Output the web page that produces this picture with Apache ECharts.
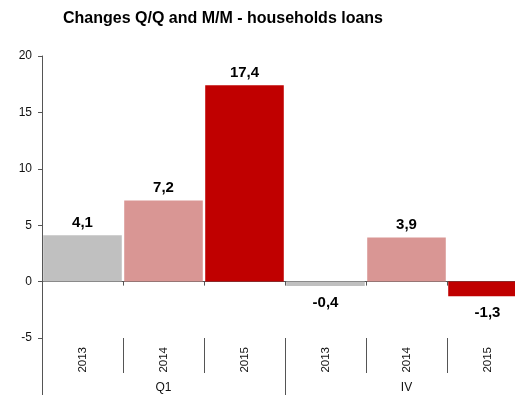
<!DOCTYPE html>
<html>
<head>
<meta charset="utf-8">
<script src="https://cdn.jsdelivr.net/npm/echarts@6/dist/echarts.min.js"></script>
<style>
  html, body { margin: 0; padding: 0; background: #fff; }
  #chart { width: 515px; height: 400px; }
</style>
</head>
<body>
<div id="chart"></div>
<script>
// values
const years = ["2013", "2014", "2015", "2013", "2014", "2015"];
const groups = ["Q1", "IV"];
const values = [4.1, 7.2, 17.4, -0.4, 3.9, -1.3];

const YEAR_COLORS = {
  "2013": "#C0C0C0",
  "2014": "#D99694",
  "2015": "#C00000",
};
const FONT = "Arial, 'Liberation Sans', sans-serif";

const chart = echarts.init(document.getElementById("chart"), null, { renderer: "canvas" });

const fmt = (v) => v.toFixed(1).replace(".", ",");

const option = {
  animation: false,
  title: {
    text: "Changes Q/Q and M/M - households loans",
    left: 218,
    top: 6,
    textAlign: "center",
    textStyle: { fontFamily: FONT, fontSize: 16, fontWeight: "bold", color: "#000" },
  },
  grid: {
    left: 42,
    right: -13,
    top: 56,
    bottom: 62,
    containLabel: false,
    outerBoundsMode: "none",
  },
  xAxis: [
    {
      // axis crossing at zero, no labels
      type: "category",
      data: years,
      position: "bottom",
      axisLine: { show: true, onZero: true, lineStyle: { color: "#555", width: 1 } },
      axisTick: { show: true, length: 4, interval: 0, lineStyle: { color: "#555" } },
      axisLabel: { show: false },
      splitLine: { show: false },
    },
    {
      // year labels with short dividers
      type: "category",
      data: years,
      position: "bottom",
      axisLine: { show: false, onZero: false },
      axisTick: { show: true, length: 35, interval: 0, lineStyle: { color: "#555" } },
      axisLabel: {
        interval: 0,
        rotate: 90,
        margin: 9,
        fontFamily: FONT,
        fontSize: 11.5,
        color: "#111",
      },
      splitLine: { show: false },
    },
    {
      // group labels with full dividers
      type: "category",
      data: groups,
      position: "bottom",
      axisLine: { show: false, onZero: false },
      axisTick: { show: true, length: 57, interval: 0, lineStyle: { color: "#555" } },
      axisLabel: {
        interval: 0,
        margin: 44,
        fontFamily: FONT,
        fontSize: 12,
        color: "#111",
      },
      splitLine: { show: false },
    },
  ],
  yAxis: {
    type: "value",
    min: -5,
    max: 20,
    interval: 5,
    axisLine: { show: true, lineStyle: { color: "#555", width: 1 } },
    axisTick: { show: true, length: 4, lineStyle: { color: "#555" } },
    axisLabel: { margin: 10, fontFamily: FONT, fontSize: 12, color: "#111" },
    splitLine: { show: false },
  },
  series: [
    {
      type: "bar",
      xAxisIndex: 0,
      barCategoryGap: "3%",
      data: values.map((v, i) => ({
        value: v,
        itemStyle: { color: YEAR_COLORS[years[i]] },
        label: {
          position: v < 0 ? "bottom" : "top",
          distance: v < 0 ? 9 : 5,
        },
      })),
      label: {
        show: true,
        formatter: (p) => fmt(p.value),
        fontFamily: FONT,
        fontSize: 15,
        fontWeight: "bold",
        color: "#000",
      },
    },
  ],
};

chart.setOption(option);
</script>
</body>
</html>
